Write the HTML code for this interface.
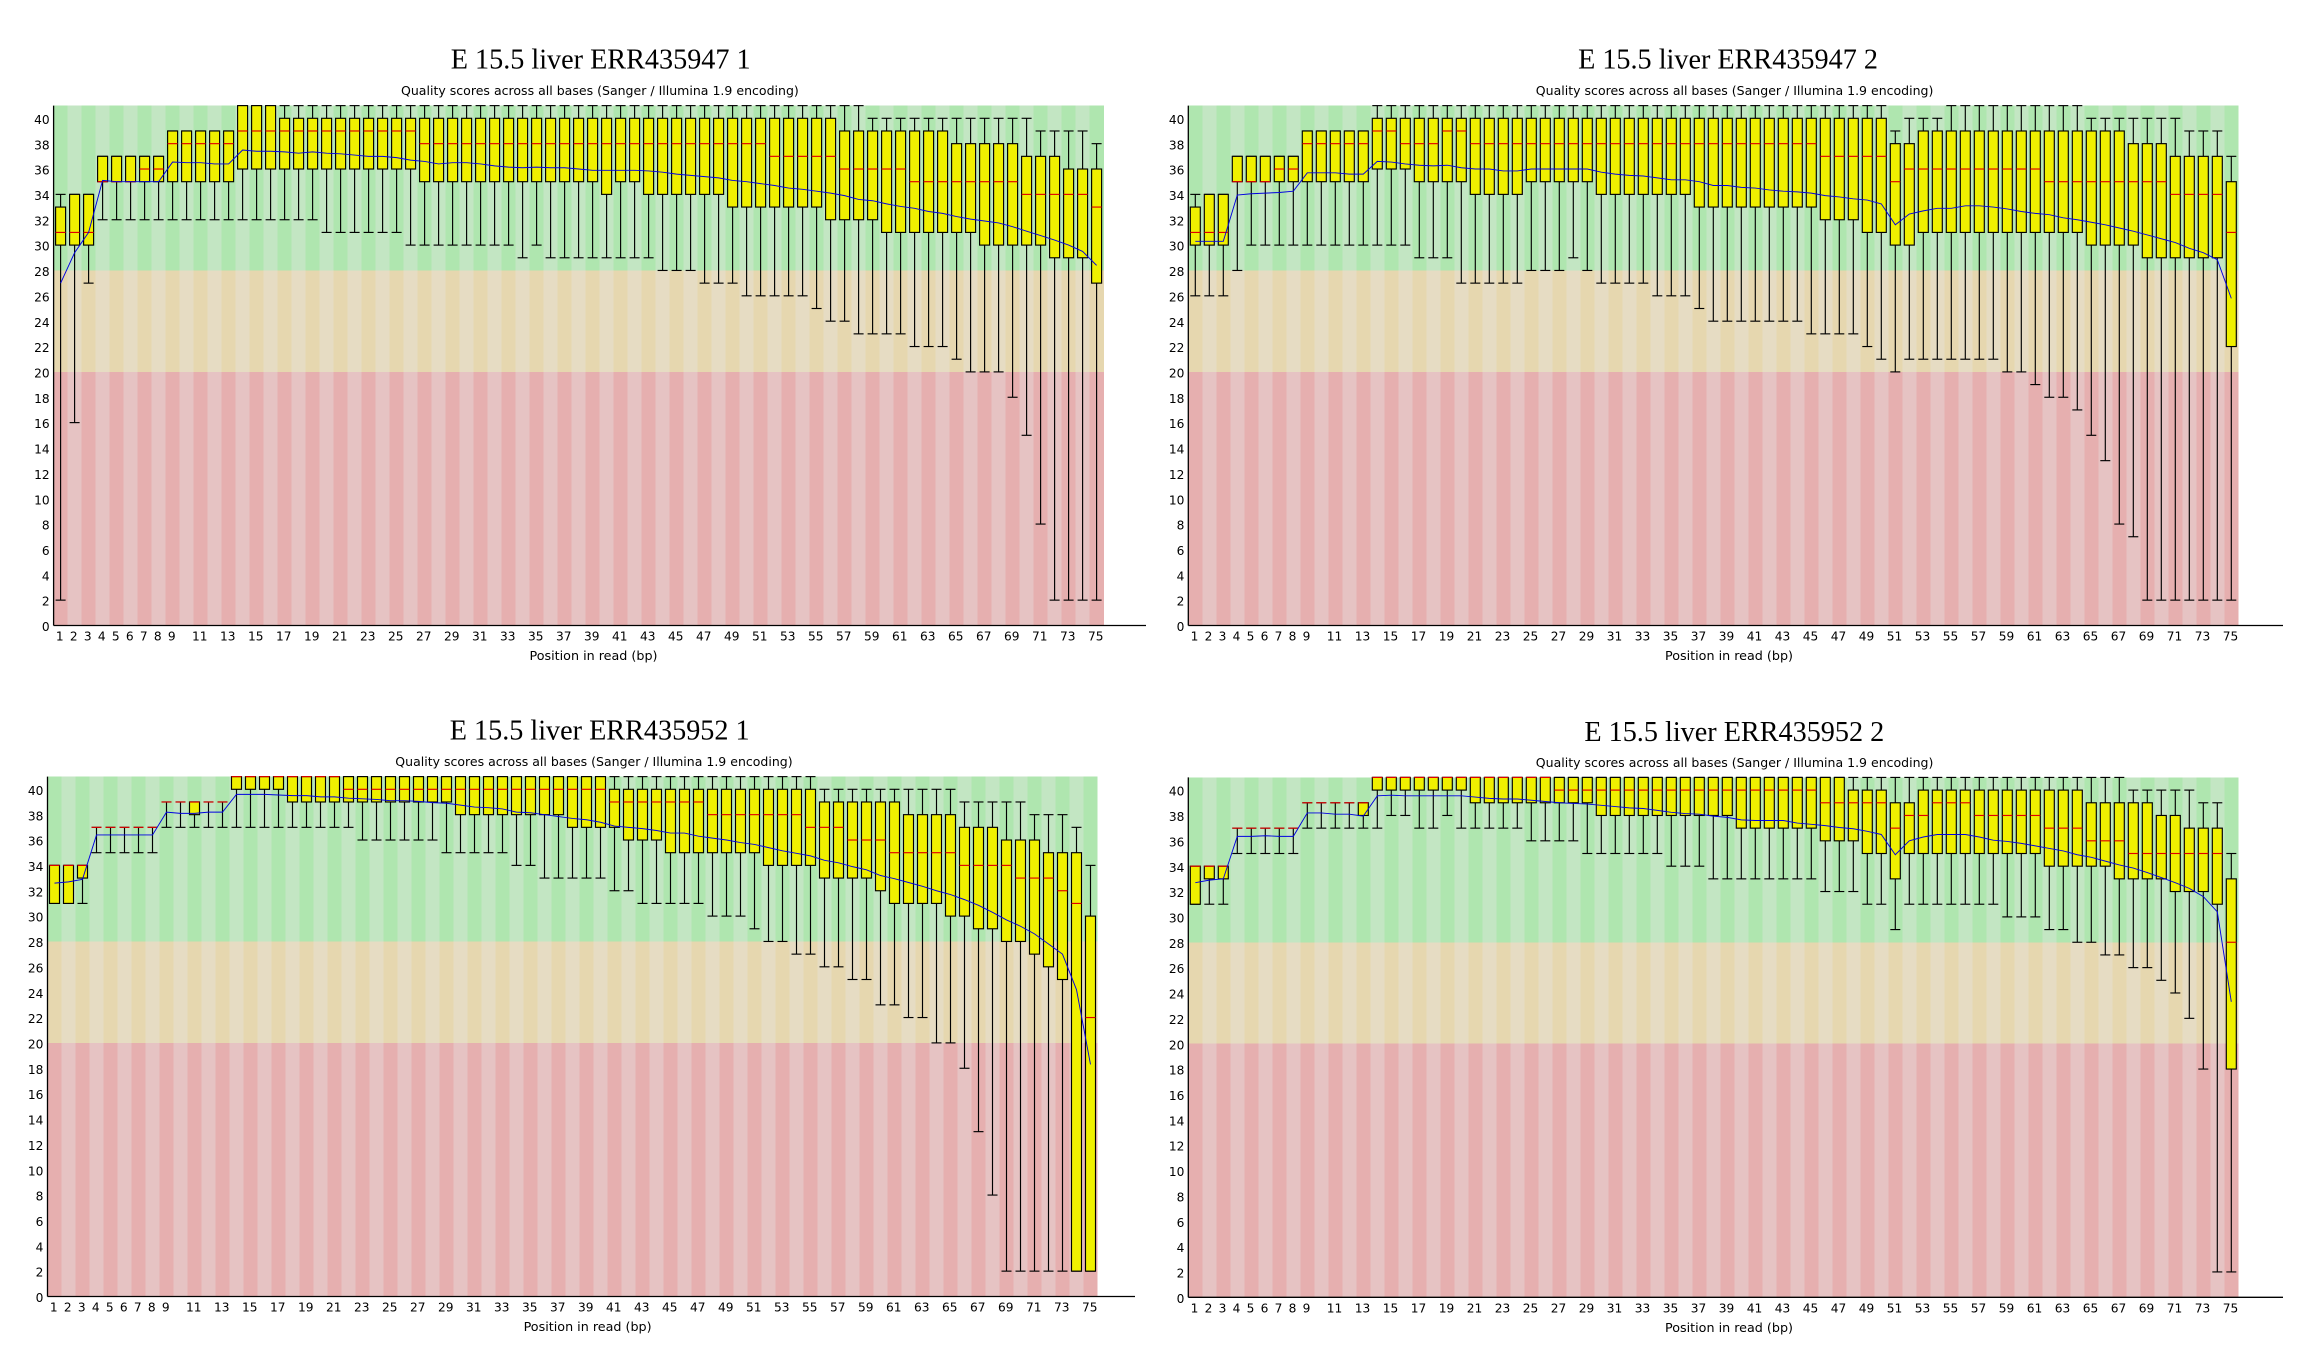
<!DOCTYPE html>
<html lang="en">
<head>
<meta charset="utf-8">
<title>E 15.5 liver per-base quality scores</title>
<style>
  html, body { margin: 0; padding: 0; background: #ffffff; }
  body { width: 2300px; height: 1362px; overflow: hidden; }
  svg { display: block; }
  .main-title { font-family: "Liberation Serif", serif; font-size: 28.2px; fill: #000; text-anchor: middle; }
  .sub-title { font-family: "DejaVu Sans", sans-serif; font-size: 12.5px; fill: #000; }
  .tick { font-family: "DejaVu Sans", sans-serif; font-size: 12.2px; fill: #000; }
  .axis-title { font-family: "DejaVu Sans", sans-serif; font-size: 12.5px; fill: #000; }
</style>
</head>
<body>
<svg id="figure" xmlns="http://www.w3.org/2000/svg" width="2300" height="1362" viewBox="0 0 2300 1362">
  <rect x="0" y="0" width="2300" height="1362" fill="#ffffff"/>

  <text class="main-title" x="600.7" y="68.6">E 15.5 liver ERR435947 1</text>
  <text class="sub-title" x="401" y="95" textLength="397.8" lengthAdjust="spacingAndGlyphs">Quality scores across all bases (Sanger / Illumina 1.9 encoding)</text>

  <text class="main-title" x="1728" y="68.6">E 15.5 liver ERR435947 2</text>
  <text class="sub-title" x="1535.8" y="95" textLength="397.6" lengthAdjust="spacingAndGlyphs">Quality scores across all bases (Sanger / Illumina 1.9 encoding)</text>

  <text class="main-title" x="599.7" y="739.6">E 15.5 liver ERR435952 1</text>
  <text class="sub-title" x="395.3" y="766" textLength="397.3" lengthAdjust="spacingAndGlyphs">Quality scores across all bases (Sanger / Illumina 1.9 encoding)</text>

  <text class="main-title" x="1734.3" y="741">E 15.5 liver ERR435952 2</text>
  <text class="sub-title" x="1535.8" y="767" textLength="397.6" lengthAdjust="spacingAndGlyphs">Quality scores across all bases (Sanger / Illumina 1.9 encoding)</text>

  <g id="panel-1"></g>
  <g id="panel-2"></g>
  <g id="panel-3"></g>
  <g id="panel-4"></g>
</svg>

<script>
// Shared categories and ticks
const basePositions = [1,2,3,4,5,6,7,8,9,10,11,12,13,14,15,16,17,18,19,20,21,22,23,24,25,26,27,28,29,30,31,32,33,34,35,36,37,38,39,40,41,42,43,44,45,46,47,48,49,50,51,52,53,54,55,56,57,58,59,60,61,62,63,64,65,66,67,68,69,70,71,72,73,74,75];
const xTickLabels = [1,2,3,4,5,6,7,8,9,11,13,15,17,19,21,23,25,27,29,31,33,35,37,39,41,43,45,47,49,51,53,55,57,59,61,63,65,67,69,71,73,75];
const yTickLabels = [0,2,4,6,8,10,12,14,16,18,20,22,24,26,28,30,32,34,36,38,40];
const zoneBounds = [0,20,28,41];

// Panel 1: ERR435947 1
const p1High = [34,34,34,37,37,37,37,37,39,39,39,39,39,41,41,41,41,41,41,41,41,41,41,41,41,41,41,41,41,41,41,41,41,41,41,41,41,41,41,41,41,41,41,41,41,41,41,41,41,41,41,41,41,41,41,41,41,41,40,40,40,40,40,40,40,40,40,40,40,40,39,39,39,39,38];
const p1Q3 = [33,34,34,37,37,37,37,37,39,39,39,39,39,41,41,41,40,40,40,40,40,40,40,40,40,40,40,40,40,40,40,40,40,40,40,40,40,40,40,40,40,40,40,40,40,40,40,40,40,40,40,40,40,40,40,40,39,39,39,39,39,39,39,39,38,38,38,38,38,37,37,37,36,36,36];
const p1Median = [31,31,31,35,35,35,36,36,38,38,38,38,38,39,39,39,39,39,39,39,39,39,39,39,39,39,38,38,38,38,38,38,38,38,38,38,38,38,38,38,38,38,38,38,38,38,38,38,38,38,38,37,37,37,37,37,36,36,36,36,36,35,35,35,35,35,35,35,35,34,34,34,34,34,33];
const p1Q1 = [30,30,30,35,35,35,35,35,35,35,35,35,35,36,36,36,36,36,36,36,36,36,36,36,36,36,35,35,35,35,35,35,35,35,35,35,35,35,35,34,35,35,34,34,34,34,34,34,33,33,33,33,33,33,33,32,32,32,32,31,31,31,31,31,31,31,30,30,30,30,30,29,29,29,27];
const p1Low = [2,16,27,32,32,32,32,32,32,32,32,32,32,32,32,32,32,32,32,31,31,31,31,31,31,30,30,30,30,30,30,30,30,29,30,29,29,29,29,29,29,29,29,28,28,28,27,27,27,26,26,26,26,26,25,24,24,23,23,23,23,22,22,22,21,20,20,20,18,15,8,2,2,2,2];
const p1Mean = [27,29.4,31,35.1,35,35,35,35,36.55,36.5,36.5,36.4,36.4,37.5,37.4,37.4,37.35,37.25,37.35,37.25,37.2,37.1,37,37,36.9,36.7,36.6,36.4,36.5,36.5,36.4,36.25,36.15,36.1,36.15,36.1,36.1,36,35.9,35.9,35.9,35.9,35.85,35.75,35.6,35.5,35.4,35.3,35.1,35,34.85,34.7,34.5,34.4,34.25,34.1,33.9,33.6,33.5,33.25,33.05,32.9,32.65,32.5,32.25,32.05,31.9,31.75,31.45,31.1,30.75,30.4,30,29.5,28.4];

// Panel 2: ERR435947 2
const p2High = [34,34,34,37,37,37,37,37,39,39,39,39,39,41,41,41,41,41,41,41,41,41,41,41,41,41,41,41,41,41,41,41,41,41,41,41,41,41,41,41,41,41,41,41,41,41,41,41,41,41,39,40,40,40,41,41,41,41,41,41,41,41,41,41,40,40,40,40,40,40,40,39,39,39,37];
const p2Q3 = [33,34,34,37,37,37,37,37,39,39,39,39,39,40,40,40,40,40,40,40,40,40,40,40,40,40,40,40,40,40,40,40,40,40,40,40,40,40,40,40,40,40,40,40,40,40,40,40,40,40,38,38,39,39,39,39,39,39,39,39,39,39,39,39,39,39,39,38,38,38,37,37,37,37,35];
const p2Median = [31,31,31,35,35,35,36,36,38,38,38,38,38,39,39,38,38,38,39,39,38,38,38,38,38,38,38,38,38,38,38,38,38,38,38,38,38,38,38,38,38,38,38,38,38,37,37,37,37,37,35,36,36,36,36,36,36,36,36,36,36,35,35,35,35,35,35,35,35,35,34,34,34,34,31];
const p2Q1 = [30,30,30,35,35,35,35,35,35,35,35,35,35,36,36,36,35,35,35,35,34,34,34,34,35,35,35,35,35,34,34,34,34,34,34,34,33,33,33,33,33,33,33,33,33,32,32,32,31,31,30,30,31,31,31,31,31,31,31,31,31,31,31,31,30,30,30,30,29,29,29,29,29,29,22];
const p2Low = [26,26,26,28,30,30,30,30,30,30,30,30,30,30,30,30,29,29,29,27,27,27,27,27,28,28,28,29,28,27,27,27,27,26,26,26,25,24,24,24,24,24,24,24,23,23,23,23,22,21,20,21,21,21,21,21,21,21,20,20,19,18,18,17,15,13,8,7,2,2,2,2,2,2,2];
const p2Mean = [30.3,30.3,30.3,33.95,34.05,34.1,34.15,34.25,35.7,35.7,35.7,35.6,35.6,36.6,36.55,36.4,36.3,36.25,36.3,36.1,36,36,35.85,35.85,36,36,36,36,36,35.75,35.6,35.5,35.45,35.3,35.15,35.15,35,34.7,34.7,34.55,34.5,34.35,34.25,34.2,34.1,33.9,33.8,33.65,33.55,33.25,31.6,32.45,32.7,32.9,32.9,33.1,33.1,33,32.85,32.65,32.5,32.4,32.15,32,31.8,31.6,31.35,31.1,30.8,30.5,30.2,29.75,29.4,28.85,25.8];

// Panel 3: ERR435952 1
const p3High = [34,34,34,37,37,37,37,37,39,39,39,39,39,41,41,41,41,41,41,41,41,41,41,41,41,41,41,41,41,41,41,41,41,41,41,41,41,41,41,41,41,41,41,41,41,41,41,41,41,41,41,41,41,41,41,40,40,40,40,40,40,40,40,40,40,39,39,39,39,39,38,38,38,37,34];
const p3Q3 = [34,34,34,37,37,37,37,37,39,39,39,39,39,41,41,41,41,41,41,41,41,41,41,41,41,41,41,41,41,41,41,41,41,41,41,41,41,41,41,41,40,40,40,40,40,40,40,40,40,40,40,40,40,40,40,39,39,39,39,39,39,38,38,38,38,37,37,37,36,36,36,35,35,35,30];
const p3Median = [34,34,34,37,37,37,37,37,39,39,39,39,39,41,41,41,41,41,41,41,41,40,40,40,40,40,40,40,40,40,40,40,40,40,40,40,40,40,40,40,39,39,39,39,39,39,39,38,38,38,38,38,38,38,37,37,37,36,36,36,35,35,35,35,35,34,34,34,34,33,33,33,32,31,22];
const p3Q1 = [31,31,33,37,37,37,37,37,39,39,38,39,39,40,40,40,40,39,39,39,39,39,39,39,39,39,39,39,39,38,38,38,38,38,38,38,38,37,37,37,37,36,36,36,35,35,35,35,35,35,35,34,34,34,34,33,33,33,33,32,31,31,31,31,30,30,29,29,28,28,27,26,25,2,2];
const p3Low = [31,31,31,35,35,35,35,35,37,37,37,37,37,37,37,37,37,37,37,37,37,37,36,36,36,36,36,36,35,35,35,35,35,34,34,33,33,33,33,33,32,32,31,31,31,31,31,30,30,30,29,28,28,27,27,26,26,25,25,23,23,22,22,20,20,18,13,8,2,2,2,2,2,2,2];
const p3Mean = [32.6,32.7,32.9,36.4,36.4,36.4,36.4,36.4,38.2,38.1,38.1,38.2,38.2,39.6,39.6,39.6,39.55,39.5,39.5,39.4,39.4,39.3,39.25,39.2,39.1,39.1,39.05,38.95,38.9,38.75,38.6,38.55,38.45,38.2,38.15,38,37.85,37.7,37.6,37.4,37.1,37,36.9,36.75,36.55,36.55,36.3,36.15,36,35.8,35.65,35.4,35.15,34.95,34.75,34.4,34.2,33.9,33.65,33.2,32.95,32.65,32.35,32,31.7,31.3,30.85,30.3,29.7,29.2,28.6,27.8,27,24.2,18.3];

// Panel 4: ERR435952 2
const p4High = [34,34,34,37,37,37,37,37,39,39,39,39,39,41,41,41,41,41,41,41,41,41,41,41,41,41,41,41,41,41,41,41,41,41,41,41,41,41,41,41,41,41,41,41,41,41,41,41,41,41,41,41,41,41,41,41,41,41,41,41,41,41,41,41,41,41,41,40,40,40,40,40,39,39,35];
const p4Q3 = [34,34,34,37,37,37,37,37,39,39,39,39,39,41,41,41,41,41,41,41,41,41,41,41,41,41,41,41,41,41,41,41,41,41,41,41,41,41,41,41,41,41,41,41,41,41,41,40,40,40,39,39,40,40,40,40,40,40,40,40,40,40,40,40,39,39,39,39,39,38,38,37,37,37,33];
const p4Median = [34,34,34,37,37,37,37,37,39,39,39,39,39,41,41,41,41,41,41,41,41,41,41,41,41,41,40,40,40,40,40,40,40,40,40,40,40,40,40,40,40,40,40,40,40,39,39,39,39,39,37,38,38,39,39,39,38,38,38,38,38,37,37,37,36,36,36,35,35,35,35,35,35,35,28];
const p4Q1 = [31,33,33,37,37,37,37,37,39,39,39,39,38,40,40,40,40,40,40,40,39,39,39,39,39,39,39,39,39,38,38,38,38,38,38,38,38,38,38,37,37,37,37,37,37,36,36,36,35,35,33,35,35,35,35,35,35,35,35,35,35,34,34,34,34,34,33,33,33,33,32,32,32,31,18];
const p4Low = [31,31,31,35,35,35,35,35,37,37,37,37,37,37,38,38,37,37,38,37,37,37,37,37,36,36,36,36,35,35,35,35,35,35,34,34,34,33,33,33,33,33,33,33,33,32,32,32,31,31,29,31,31,31,31,31,31,31,30,30,30,29,29,28,28,27,27,26,26,25,24,22,18,2,2];
const p4Mean = [32.7,32.9,33,36.35,36.35,36.4,36.35,36.35,38.2,38.2,38.1,38.1,37.95,39.55,39.6,39.55,39.55,39.55,39.55,39.55,39.45,39.35,39.3,39.3,39.2,39.1,39,38.95,38.9,38.8,38.7,38.6,38.55,38.4,38.25,38.15,38.1,37.95,37.85,37.65,37.6,37.6,37.6,37.4,37.3,37.2,37.05,36.95,36.75,36.5,34.9,36,36.3,36.5,36.5,36.5,36.3,36.05,35.95,35.8,35.6,35.4,35.2,34.9,34.7,34.4,34.1,33.85,33.5,33.1,32.7,32.25,31.6,30.4,23.3];

const SVG_NS = 'http://www.w3.org/2000/svg';
const COLUMN_WIDTH = 14;
const UNIT_HEIGHT = 12.68;
const HALF_BOX = 5;
const ZONE_COLORS = [['#e6afaf', '#e6c3c3'], ['#e6d7af', '#e6dcc3'], ['#afe6af', '#c3e6c3']];

const panelConfigs = [
  { id: 'panel-1', left: 53.6, base: 625.5, axisEnd: 1146, labelRight: 49.7, titleLeft: 529.5, high: p1High, q3: p1Q3, median: p1Median, q1: p1Q1, low: p1Low, mean: p1Mean },
  { id: 'panel-2', left: 1188.3, base: 625.5, axisEnd: 2283, labelRight: 1184.4, titleLeft: 1665, high: p2High, q3: p2Q3, median: p2Median, q1: p2Q1, low: p2Low, mean: p2Mean },
  { id: 'panel-3', left: 47.5, base: 1296.5, axisEnd: 1135, labelRight: 43.4, titleLeft: 523.6, high: p3High, q3: p3Q3, median: p3Median, q1: p3Q1, low: p3Low, mean: p3Mean },
  { id: 'panel-4', left: 1188.3, base: 1297.3, axisEnd: 2283, labelRight: 1184.4, titleLeft: 1665, high: p4High, q3: p4Q3, median: p4Median, q1: p4Q1, low: p4Low, mean: p4Mean }
];

function shape(parent, tag, attrs) {
  const node = document.createElementNS(SVG_NS, tag);
  Object.keys(attrs).forEach(function (k) { node.setAttribute(k, attrs[k]); });
  parent.appendChild(node);
  return node;
}

function drawPanel(cfg) {
  const root = document.getElementById(cfg.id);
  const xScale = function (pos) { return cfg.left + COLUMN_WIDTH * (pos - 0.5); };
  const xEdge = function (pos) { return cfg.left + COLUMN_WIDTH * (pos - 1); };
  const yScale = function (v) { return cfg.base - UNIT_HEIGHT * v; };

  // Background zones with alternating stripes
  for (let z = 0; z < zoneBounds.length - 1; z++) {
    basePositions.forEach(function (pos, i) {
      const stripe = shape(root, 'rect', {
        x: xEdge(pos), y: yScale(zoneBounds[z + 1]),
        width: COLUMN_WIDTH + 0.2, height: yScale(zoneBounds[z]) - yScale(zoneBounds[z + 1]),
        fill: ZONE_COLORS[z][i % 2], 'shape-rendering': 'crispEdges'
      });
      
      
    });
  }

  // Box plot per read position
  basePositions.forEach(function (pos, i) {
    const cx = xScale(pos);
    const group = shape(root, 'g', {});
    
    

    const upper = shape(group, 'line', { x1: cx, x2: cx, y1: yScale(cfg.high[i]), y2: yScale(cfg.q3[i]), stroke: '#000', 'stroke-width': 1.15 });
    
    

    const lower = shape(group, 'line', { x1: cx, x2: cx, y1: yScale(cfg.q1[i]), y2: yScale(cfg.low[i]), stroke: '#000', 'stroke-width': 1.15 });
    
    

    const capTop = shape(group, 'line', { x1: cx - HALF_BOX, x2: cx + HALF_BOX, y1: yScale(cfg.high[i]), y2: yScale(cfg.high[i]), stroke: '#000', 'stroke-width': 1.15 });
    
    

    const capBottom = shape(group, 'line', { x1: cx - HALF_BOX, x2: cx + HALF_BOX, y1: yScale(cfg.low[i]), y2: yScale(cfg.low[i]), stroke: '#000', 'stroke-width': 1.15 });
    
    

    const box = shape(group, 'rect', {
      x: cx - HALF_BOX, y: yScale(cfg.q3[i]), width: HALF_BOX * 2,
      height: yScale(cfg.q1[i]) - yScale(cfg.q3[i]),
      fill: '#f0f000', stroke: '#000', 'stroke-width': 1.15
    });
    
    

    const med = shape(group, 'line', { x1: cx - HALF_BOX, x2: cx + HALF_BOX, y1: yScale(cfg.median[i]), y2: yScale(cfg.median[i]), stroke: '#e00000', 'stroke-width': 1.15 });
    
    
  });

  // Mean line
  const meanPoints = basePositions.map(function (pos, i) { return xScale(pos) + ',' + yScale(cfg.mean[i]); }).join(' ');
  const meanLine = shape(root, 'polyline', { points: meanPoints, fill: 'none', stroke: '#0000e0', 'stroke-width': 0.95 });
  
  

  // Axes
  const yAxis = shape(root, 'line', { x1: cfg.left, x2: cfg.left, y1: yScale(41), y2: cfg.base, stroke: '#000', 'stroke-width': 1.3 });
  
  

  const xAxis = shape(root, 'line', { x1: cfg.left, x2: cfg.axisEnd, y1: cfg.base, y2: cfg.base, stroke: '#000', 'stroke-width': 1.3 });
  
  

  yTickLabels.forEach(function (v) {
    const label = shape(root, 'text', { class: 'tick', x: cfg.labelRight, y: yScale(v) + 5.6, 'text-anchor': 'end' });
    label.textContent = String(v);
    
    
  });

  xTickLabels.forEach(function (pos) {
    const label = shape(root, 'text', { class: 'tick', x: xScale(pos) - 0.8, y: cfg.base + 15.2, 'text-anchor': 'middle' });
    label.textContent = String(pos);
    
    
  });

  const xTitle = shape(root, 'text', { class: 'axis-title', x: cfg.titleLeft, y: cfg.base + 34.6, textLength: 128, lengthAdjust: 'spacingAndGlyphs' });
  xTitle.textContent = 'Position in read (bp)';
  
  
}

panelConfigs.forEach(drawPanel);
</script>
</body>
</html>
